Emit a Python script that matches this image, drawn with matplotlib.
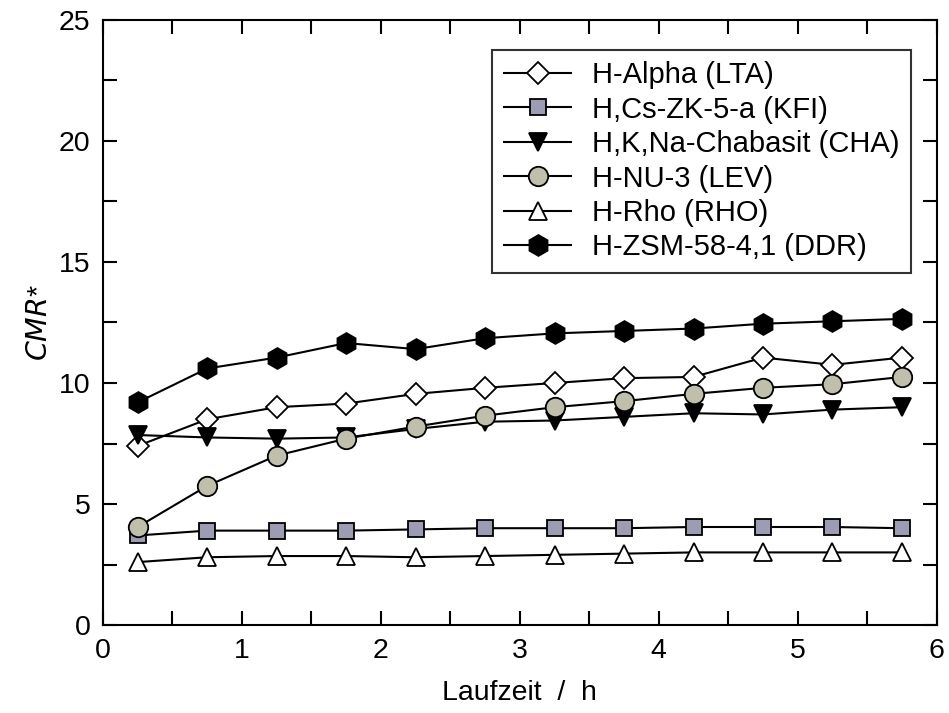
import matplotlib.pyplot as plt
from matplotlib.ticker import MultipleLocator

plt.rcParams["font.family"] = ["Liberation Sans", "DejaVu Sans"]

time_h = [0.25, 0.75, 1.25, 1.75, 2.25, 2.75, 3.25, 3.75, 4.25, 4.75, 5.25, 5.75]

labels = [
    "H-Alpha (LTA)",
    "H,Cs-ZK-5-a (KFI)",
    "H,K,Na-Chabasit (CHA)",
    "H-NU-3 (LEV)",
    "H-Rho (RHO)",
    "H-ZSM-58-4,1 (DDR)",
]
lta = [7.4, 8.5, 9.0, 9.15, 9.55, 9.8, 10.0, 10.2, 10.25, 11.05, 10.75, 11.05]
kfi = [3.7, 3.9, 3.9, 3.9, 3.95, 4.0, 4.0, 4.0, 4.05, 4.05, 4.05, 4.0]
cha = [7.85, 7.75, 7.7, 7.75, 8.1, 8.4, 8.45, 8.6, 8.75, 8.7, 8.9, 9.0]
lev = [4.05, 5.75, 7.0, 7.7, 8.2, 8.65, 9.0, 9.25, 9.55, 9.8, 9.95, 10.25]
rho = [2.6, 2.8, 2.85, 2.85, 2.8, 2.85, 2.9, 2.95, 3.0, 3.0, 3.0, 3.0]
ddr = [9.2, 10.6, 11.05, 11.65, 11.4, 11.85, 12.05, 12.15, 12.25, 12.45, 12.55, 12.65]

series = [lta, kfi, cha, lev, rho, ddr]
styles = [
    dict(marker="D", ms=11, mfc="white"),
    dict(marker="s", ms=12, mfc="#9c9cb2"),
    dict(marker="v", ms=13, mfc="black"),
    dict(marker="o", ms=14, mfc="#bfbfac"),
    dict(marker="^", ms=13, mfc="white"),
    dict(marker="h", ms=15, mfc="black"),
]

fig = plt.figure(figsize=(9.49, 7.13), dpi=100)
ax = fig.add_axes([0.1085, 0.1234, 0.8785, 0.8486])

for vals, lab, st in zip(series, labels, styles):
    ax.plot(time_h, vals, color="black", lw=1.5, mec="black", mew=1.3,
            label=lab, **st)

ax.set_xlim(0, 6)
ax.set_ylim(0, 25)
ax.xaxis.set_major_locator(MultipleLocator(1))
ax.xaxis.set_minor_locator(MultipleLocator(0.5))
ax.yaxis.set_major_locator(MultipleLocator(5))
ax.yaxis.set_minor_locator(MultipleLocator(2.5))
ax.tick_params(which="both", direction="in", top=True, right=True,
               labelsize=20.5, width=1.5)
ax.tick_params(which="major", length=10, pad=9)
ax.tick_params(which="minor", length=10)
for sp in ax.spines.values():
    sp.set_linewidth(1.5)

ax.set_xlabel("Laufzeit  /  h", fontsize=20.5, labelpad=12)
ax.set_ylabel("$CMR$*", fontsize=20.5, labelpad=4)

leg = ax.legend(loc="upper right", bbox_to_anchor=(0.969, 0.951), fontsize=21,
                frameon=True, fancybox=False, edgecolor="black",
                handlelength=2.3, labelspacing=0.22, borderpad=0.4,
                handletextpad=0.7, borderaxespad=0)
leg.get_frame().set_linewidth(1.5)

fig.savefig("out.png", dpi=100)
